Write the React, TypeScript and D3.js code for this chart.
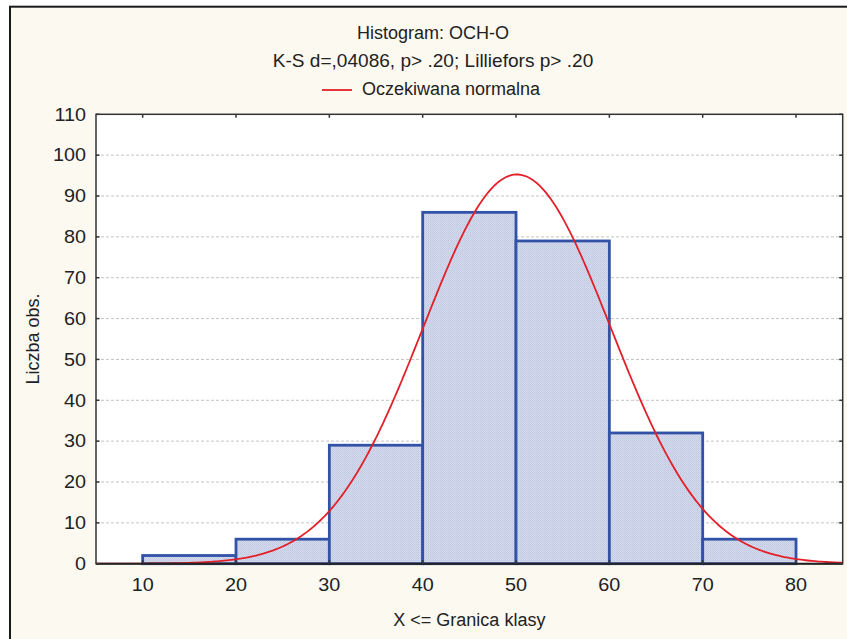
import * as React from 'react';
import * as d3 from 'd3';

// histogram classes (upper bounds) and counts
const binStarts = [10, 20, 30, 40, 50, 60, 70];
const binWidth = 10;
const counts = [2, 6, 29, 86, 79, 32, 6];

const xTicks = [10, 20, 30, 40, 50, 60, 70, 80];
const yTicks = [0, 10, 20, 30, 40, 50, 60, 70, 80, 90, 100, 110];

// expected normal
const normalMean = 50.1;
const normalSd = 10.05;

const titleLines = ['Histogram: OCH-O', 'K-S d=,04086, p> .20; Lilliefors p> .20'];
const legendLabel = 'Oczekiwana normalna';
const xAxisLabel = 'X <= Granica klasy';
const yAxisLabel = 'Liczba obs.';

const W = 847;
const H = 639;
const M = { left: 96, top: 114.3, right: 842.7, bottom: 563.7 };
const FONT = '"Liberation Sans", Arial, sans-serif';
const FS = 18;
const CREAM = '#fcf9f1';

// text stretched a little wider, like the source bitmap
function T(props: { x: number; y: number; sx?: number; anchor?: string; rot?: number; children: React.ReactNode }) {
    const { x, y, sx = 1, anchor = 'start', rot = 0, children } = props;
    return (
        <text transform={`translate(${x},${y}) rotate(${rot}) scale(${sx},1)`} textAnchor={anchor}
            fontFamily={FONT} fontSize={FS} fill="#222">{children}</text>
    );
}

export default function App() {
    const x = d3.scaleLinear().domain([5, 85]).range([M.left, M.right]);
    const y = d3.scaleLinear().domain([0, 110]).range([M.bottom, M.top]);

    const total = d3.sum(counts);
    const curvePts = d3.range(5, 85.01, 0.25).map((v) => {
        const z = (v - normalMean) / normalSd;
        return [v, (total * binWidth) / (normalSd * Math.sqrt(2 * Math.PI)) * Math.exp(-0.5 * z * z)] as [number, number];
    });
    const line = d3.line<[number, number]>()
        .x((d) => x(d[0]))
        .y((d) => y(d[1]));

    const tick = 3.5;

    return (
        <svg width={W} height={H} style={{ position: 'absolute', left: 0, top: 0, display: 'block' }}>
            <defs>
                <pattern id="stip" width="2" height="2" patternUnits="userSpaceOnUse">
                    <rect width="2" height="2" fill="#d6dcee" />
                    <rect width="1" height="1" fill="#bcc6e0" />
                    <rect x="1" y="1" width="1" height="1" fill="#c4cde4" />
                </pattern>
                <clipPath id="plotClip">
                    <rect x={M.left} y={M.top} width={M.right - M.left} height={M.bottom - M.top} />
                </clipPath>
            </defs>
            <rect width={W} height={H} fill="#ffffff" />
            <rect x={10} y={6.7} width={W + 20} height={H + 20} fill={CREAM} stroke="#1a1a1a" strokeWidth={2} />

            {/* plot area */}
            <rect x={M.left} y={M.top} width={M.right - M.left} height={M.bottom - M.top} fill="#ffffff" />

            {/* grid */}
            {yTicks.filter((t) => t > 0 && t < 110).map((t) => (
                <line key={'g' + t} x1={M.left} x2={M.right} y1={y(t)} y2={y(t)}
                    stroke="#c4c4c4" strokeWidth={1} strokeDasharray="3,2" />
            ))}

            {/* bars */}
            {binStarts.map((b, i) => (
                <rect key={'b' + b} x={x(b)} y={y(counts[i])} width={x(b + binWidth) - x(b)}
                    height={y(0) - y(counts[i])} fill="url(#stip)" stroke="#3152a6" strokeWidth={2.8} />
            ))}

            {/* normal curve */}
            <path d={line(curvePts) || ''} fill="none" stroke="#e3202a" strokeWidth={1.8} clipPath="url(#plotClip)" />

            {/* frame */}
            <rect x={M.left} y={M.top} width={M.right - M.left} height={M.bottom - M.top}
                fill="none" stroke="#333333" strokeWidth={1.5} />
            <line x1={M.left} x2={M.right} y1={M.bottom} y2={M.bottom} stroke="#222222" strokeWidth={2} />

            {/* ticks */}
            {xTicks.map((t) => (
                <g key={'xt' + t}>
                    <line x1={x(t)} x2={x(t)} y1={M.top} y2={M.top + tick} stroke="#333" strokeWidth={1.5} />
                    <line x1={x(t)} x2={x(t)} y1={M.bottom} y2={M.bottom - tick} stroke="#333" strokeWidth={1.5} />
                    <T x={x(t)} y={591} sx={1.1} anchor="middle">{t}</T>
                </g>
            ))}
            {yTicks.map((t) => (
                <g key={'yt' + t}>
                    <line x1={M.left} x2={M.left + tick} y1={y(t)} y2={y(t)} stroke="#333" strokeWidth={1.5} />
                    <line x1={M.right} x2={M.right - tick} y1={y(t)} y2={y(t)} stroke="#333" strokeWidth={1.5} />
                    <T x={86} y={y(t) + 6.3} sx={1.1} anchor="end">{t}</T>
                </g>
            ))}

            {/* titles */}
            <T x={433} y={39} anchor="middle">{titleLines[0]}</T>
            <T x={433} y={67} sx={1.06} anchor="middle">{titleLines[1]}</T>
            <line x1={322} x2={352} y1={90} y2={90} stroke="#e3202a" strokeWidth={1.8} />
            <T x={362} y={95}>{legendLabel}</T>

            <T x={(M.left + M.right) / 2} y={626} anchor="middle">{xAxisLabel}</T>
            <T x={38.5} y={(M.top + M.bottom) / 2} rot={-90} anchor="middle">{yAxisLabel}</T>
        </svg>
    );
}
